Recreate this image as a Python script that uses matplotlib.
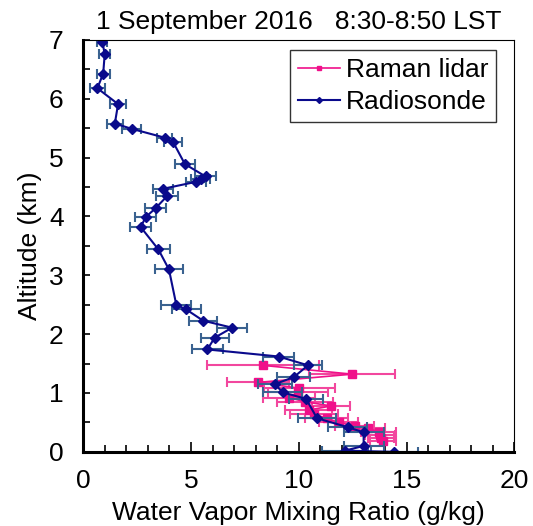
import matplotlib
matplotlib.use('Agg')
import matplotlib.pyplot as plt
from matplotlib.ticker import MultipleLocator

plt.rcParams['font.family'] = ['Liberation Sans', 'DejaVu Sans']

# Raman lidar profile: altitude (km), mixing ratio (g/kg), error
lidar_alt = [1.47, 1.32, 1.18, 1.08, 1.01, 0.92, 0.85, 0.78, 0.71, 0.64,
             0.57, 0.50, 0.44, 0.40, 0.34, 0.28, 0.23, 0.19]
lidar_q = [8.33, 12.47, 8.12, 10.03, 9.97, 9.55, 10.31, 11.5, 10.46, 10.7,
           11.3, 11.85, 12.6, 13.2, 13.7, 13.75, 13.8, 13.9]
lidar_err = [2.6, 2.0, 1.45, 1.65, 1.4, 1.2, 1.3, 0.9, 1.1, 1.1,
             1.0, 0.9, 0.9, 0.8, 0.8, 0.7, 0.6, 0.6]

# Radiosonde profile
sonde_alt = [6.97, 6.76, 6.43, 6.18, 5.91, 5.58, 5.49, 5.34, 5.26, 4.89,
             4.68, 4.63, 4.59, 4.47, 4.35, 4.14, 3.99, 3.82, 3.44, 3.10,
             2.50, 2.42, 2.23, 2.11, 1.94, 1.74, 1.62, 1.47, 1.27, 1.15,
             1.01, 0.90, 0.57, 0.42, 0.33, 0.10, 0.02, 0.0]
sonde_q = [0.89, 1.00, 0.93, 0.66, 1.62, 1.47, 2.25, 3.78, 4.18, 4.72,
           5.68, 5.45, 5.25, 3.70, 3.90, 3.36, 2.90, 2.67, 3.49, 3.98,
           4.32, 4.78, 5.56, 6.91, 6.10, 5.76, 9.07, 10.43, 9.77, 8.89,
           9.26, 10.34, 10.85, 12.27, 13.01, 13.01, 12.13, 14.43]
sonde_err = [0.23, 0.25, 0.3, 0.34, 0.37, 0.38, 0.45, 0.35, 0.42, 0.45,
             0.48, 0.45, 0.47, 0.47, 0.5, 0.5, 0.49, 0.49, 0.54, 0.63,
             0.7, 0.68, 0.66, 0.68, 0.65, 0.72, 0.71, 0.65, 0.77, 0.8,
             0.9, 0.77, 0.9, 0.9, 0.93, 0.93, 1.06, 1.1]

lidar_color = '#f0108a'
sonde_color = '#0a0a8c'

fig = plt.figure(figsize=(5.33, 5.26), dpi=100)
ax = fig.add_axes([0.156, 0.141, 0.809, 0.783])

ax.errorbar(lidar_q, lidar_alt, xerr=lidar_err, fmt='none',
            ecolor='#f2479e', elinewidth=1.5, capsize=3.5, capthick=1.5)
ax.plot(lidar_q, lidar_alt, color=lidar_color, lw=1.2, marker='s',
        ms=6, label='Raman lidar')

ax.errorbar(sonde_q, sonde_alt, xerr=sonde_err, fmt='none',
            ecolor='#3a6290', elinewidth=1.5, capsize=3.5, capthick=1.5)
ax.plot(sonde_q, sonde_alt, color=sonde_color, lw=1.5, marker='D',
        ms=5, label='Radiosonde')

ax.set_xlim(0, 20)
ax.set_ylim(0, 7)
ax.xaxis.set_major_locator(MultipleLocator(5))
ax.xaxis.set_minor_locator(MultipleLocator(1))
ax.yaxis.set_major_locator(MultipleLocator(1))
ax.yaxis.set_minor_locator(MultipleLocator(0.5))
ax.tick_params(which='both', direction='in', labelsize=19, width=1.2)
ax.tick_params(axis='x', which='major', length=7, pad=12)
ax.tick_params(axis='x', which='minor', length=5)
ax.tick_params(axis='y', which='both', length=5, pad=14)

for side in ['left', 'bottom']:
    ax.spines[side].set_linewidth(2.2)
for side in ['top', 'right']:
    ax.spines[side].set_linewidth(0.8)

ax.set_xlabel('Water Vapor Mixing Ratio (g/kg)', fontsize=19, labelpad=6)
ax.set_ylabel('Altitude (km)', fontsize=19, labelpad=5)
ax.set_title('1 September 2016   8:30-8:50 LST', fontsize=19, pad=8)

leg = ax.legend(loc='upper right', fontsize=19, frameon=True, fancybox=False,
                edgecolor='black', handlelength=1.6, handletextpad=0.2,
                borderpad=0.3, labelspacing=0.3, markerscale=0.6,
                bbox_to_anchor=(0.988, 1.007))
leg.get_frame().set_linewidth(1.0)

fig.savefig('out.png', dpi=100)
